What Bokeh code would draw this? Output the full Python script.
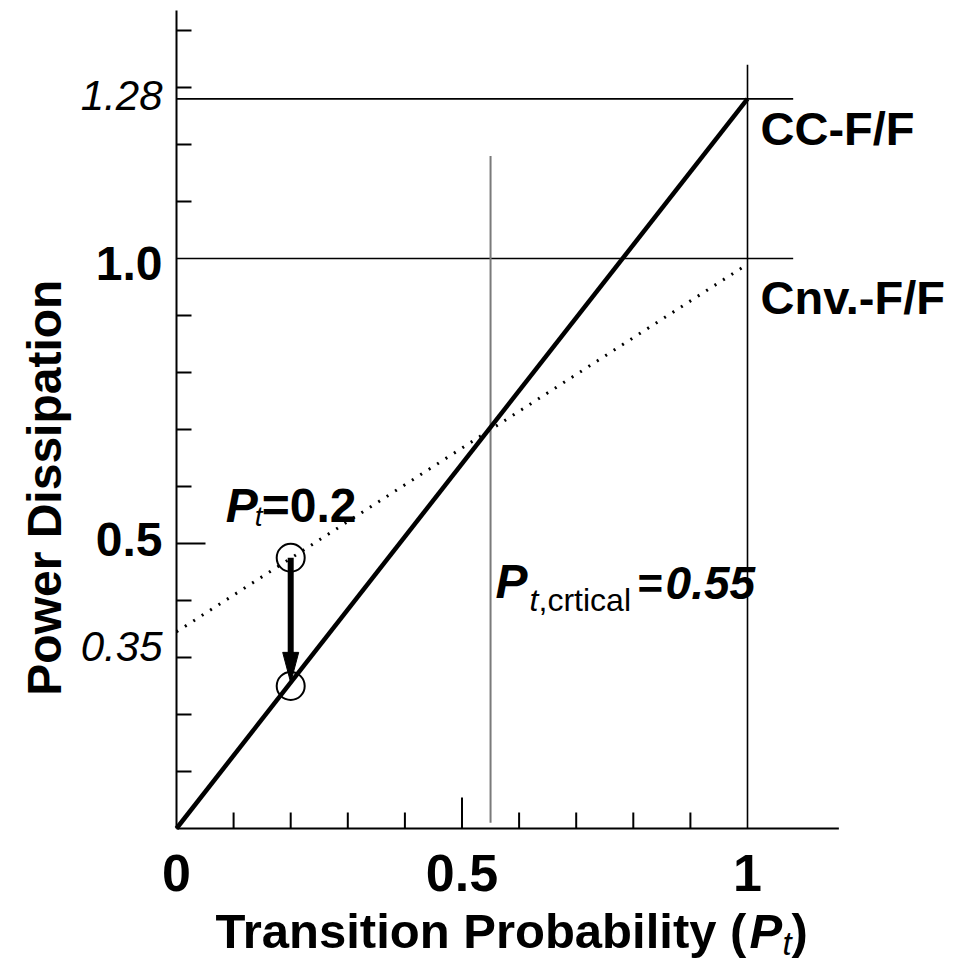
import math
from bokeh.plotting import figure
from bokeh.models import Range1d, Label
from bokeh.embed import file_html
from bokeh.resources import INLINE

FONT = "Liberation Sans"

# ---- data ----
pt = [0.0, 1.0]                 # transition probability
cc_ff = [0.0, 1.28]             # CC-F/F power (solid)
cnv_ff = [0.345, 0.99]          # conventional F/F power (dotted)
ref_levels = [1.28, 1.0]        # horizontal reference levels
pt_critical = 0.55
pt_example = [0.2, 0.2]
power_example = [0.475, 0.25]   # circles: Cnv. F/F and CC-F/F at Pt=0.2
x_major = [0.0, 0.5, 1.0]
x_major_labels = ["0", "0.5", "1"]
x_minor = [0.1, 0.2, 0.3, 0.4, 0.6, 0.7, 0.8, 0.9]
y_major = [0.5, 1.0]
y_major_labels = ["0.5", "1.0"]
y_minor = [0.1, 0.2, 0.3, 0.4, 0.6, 0.7, 0.8, 0.9, 1.1, 1.2, 1.3, 1.4]
y_italic_values = [1.28, 0.35]
y_italic_labels = ["1.28", "0.35"]
x_axis_end = 1.16
y_axis_end = 1.435

# layout: pixels per data unit and frame placement
PX_X, PX_Y = 571.0, 570.0
LEFT_PX, BOTTOM_PX = 176, 140
W, H = 965, 968
K = 0.39  # empirical baseline correction (fraction of font size)

p = figure(width=W, height=H,
           x_range=Range1d(-LEFT_PX / PX_X, (W - LEFT_PX) / PX_X),
           y_range=Range1d(-BOTTOM_PX / PX_Y, (H - BOTTOM_PX) / PX_Y),
           output_backend="svg", toolbar_location=None,
           x_axis_location=None, y_axis_location=None, min_border=0)
p.outline_line_color = None
p.grid.visible = False
p.background_fill_color = "white"
p.border_fill_color = "white"

# ---- axes (lines + inward ticks) ----
p.segment(x0=[0, 0], y0=[0, 0], x1=[0, x_axis_end], y1=[y_axis_end, 0],
          line_color="black", line_width=2)
p.segment(x0=x_minor, y0=[0] * len(x_minor), x1=x_minor,
          y1=[16 / PX_Y] * len(x_minor), line_color="black", line_width=2)
p.segment(x0=[0.5], y0=[0], x1=[0.5], y1=[31 / PX_Y], line_color="black", line_width=2)
p.segment(x0=[0] * len(y_minor), y0=y_minor, x1=[15 / PX_X] * len(y_minor),
          y1=y_minor, line_color="black", line_width=2)
p.segment(x0=[0], y0=[0.5], x1=[29 / PX_X], y1=[0.5], line_color="black", line_width=2)

# reference lines
p.segment(x0=[0, 0], y0=ref_levels, x1=[1.08, 1.08], y1=ref_levels,
          line_color="black", line_width=1.6)
p.segment(x0=[pt[1]], y0=[0], x1=[pt[1]], y1=[1.34],
          line_color="black", line_width=1.6)
p.segment(x0=[pt_critical], y0=[0.01], x1=[pt_critical], y1=[1.18],
          line_color="#7a7a7a", line_width=2)

# series
p.line(pt, cnv_ff, line_color="black", line_width=3, line_dash="2 8")
p.line(pt, cc_ff, line_color="black", line_width=4.5)

# circles at Pt = 0.2
p.scatter(pt_example, power_example, size=28, marker="circle",
          fill_color=None, line_color="black", line_width=2)

# arrow from Cnv. to CC value
head_len, head_half = 0.053, 0.014
p.segment(x0=[pt_example[0]], y0=[power_example[0]], x1=[pt_example[1]],
          y1=[power_example[1] + head_len], line_color="black", line_width=6)
ax, ay = pt_example[1], power_example[1] + 0.006
p.patch([ax - head_half, ax + head_half, ax], [ay + head_len, ay + head_len, ay],
        fill_color="black", line_color="black", line_width=1)


def lab(text, x, y, xo, rise, size, style="bold", align="left", angle=0.0):
    """rise = pixels the text baseline sits above the anchor point."""
    corr = K * size
    if angle:
        xo, yo = xo - corr, rise
    else:
        yo = rise + corr
    p.add_layout(Label(x=x, y=y, x_offset=xo, y_offset=yo, text=text,
                       text_font=FONT, text_font_size=f"{size}px",
                       text_font_style=style, text_align=align,
                       text_baseline="alphabetic", text_color="black",
                       angle=angle))


# x tick labels
for v, s in zip(x_major, x_major_labels):
    lab(s, v, 0, 0, -65, 52, "bold", "center")
# y tick labels (bold)
for v, s, r in zip(y_major, y_major_labels, [-15, -24]):
    lab(s, 0, v, -14, r, 48, "bold", "right")
# italic y tick labels
for v, s, r in zip(y_italic_values, y_italic_labels, [-13, -34]):
    lab(s, 0, v, -14, r, 42, "italic", "right")

# series names
lab("CC-F/F", pt[1], ref_levels[0], 13, -48, 47)
lab("Cnv.-F/F", pt[1], ref_levels[1], 13, -57, 47)

# Pt = 0.2 annotation
lab("P", pt_example[0], power_example[0], -65, 34, 48, "bold italic")
lab("t", pt_example[0], power_example[0], -36, 30, 28, "italic")
lab("=0.2", pt_example[0], power_example[0], -29, 34, 48, "bold")

# Pt,critical annotation
lab("P", pt_critical, 0, 5, 228, 48, "bold italic")
lab("t", pt_critical, 0, 39, 216, 32, "italic")
lab(",crtical", pt_critical, 0, 48, 216, 32, "normal")
lab("=", pt_critical, 0, 147, 228, 44, "bold")
lab("0.55", pt_critical, 0, 175, 228, 46, "bold italic")

# axis titles
lab("Power Dissipation", 0, 0.598, -113, 0, 48, "bold", "center", math.pi / 2)
lab("Transition Probability (", 0, 0, 39, -122, 49, "bold")
lab("P", 0, 0, 573, -122, 49, "bold italic")
lab("t", 0, 0, 606, -128, 33, "italic")
lab(")", 0, 0, 615, -122, 49, "bold")

open("out.html", "w").write(file_html(p, INLINE))
